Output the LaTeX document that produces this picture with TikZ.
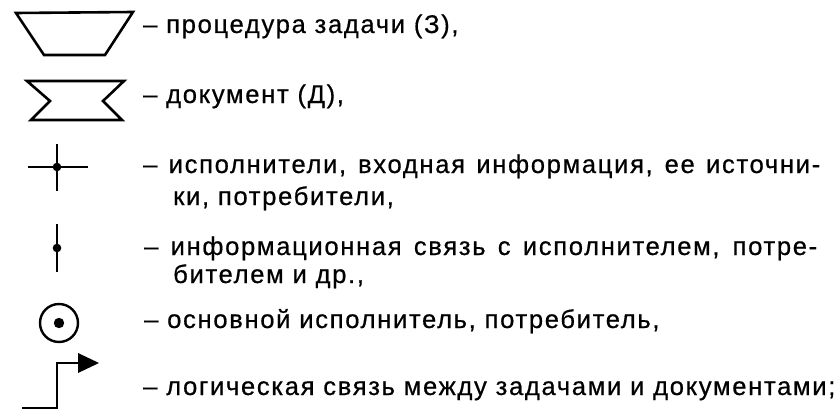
\documentclass[tikz,border=0pt]{standalone}
\usepackage{fontspec}
\setmainfont{Liberation Sans}[LetterSpace=6.5,FakeBold=0.6]
\usetikzlibrary{arrows.meta}
\begin{document}
\begin{tikzpicture}[x=1pt,y=-1pt,
  shp/.style={line width=2.6pt,line join=miter},
  lbl/.style={anchor=base west,inner sep=0pt,font=\fontsize{25.6}{30}\selectfont}]
\path[use as bounding box] (0,0) rectangle (836,420);
% trapezoid
\draw[shp] (16,13) -- (133,12) -- (105,55) -- (44,55) -- cycle;
% document
\draw[shp] (27,81) -- (124,81) -- (103,101) -- (122,120) -- (31,120) -- (50,101) -- cycle;
% cross
\draw[shp] (28,167) -- (88,167);
\draw[shp] (57,144) -- (57,191);
\fill (57,167) circle (4.3);
% vertical line with dot
\draw[shp] (57,224) -- (57,272);
\fill (57,248) circle (4.3);
% circle
\draw[line width=2.4pt] (59,323) circle (19);
\fill (59,323) circle (5.2);
% logical link
\draw[shp] (22,408) -- (57,408) -- (57,363) -- (80,363);
\fill (78,353) -- (99,363) -- (78,373) -- cycle;
% labels
\node[lbl] (t1) at (143,33) {– процедура задачи (З),};
\node[lbl] (t2) at (143,103) {– документ (Д),};
\node[lbl] (t3a) at (143,173) {\makebox[677pt][s]{– исполнители, входная информация, ее источни-}};
\node[lbl] (t3b) at (173,205) {ки, потребители,};
\node[lbl] (t4a) at (144,255) {\makebox[673pt][s]{– информационная связь с исполнителем, потре-}};
\node[lbl] (t4b) at (173,283) {бителем и др.,};
\node[lbl] (t5) at (144,328) {– основной исполнитель, потребитель,};
\node[lbl] (t6) at (143,395) {– логическая связь между задачами и документами;};
\end{tikzpicture}
\end{document}
